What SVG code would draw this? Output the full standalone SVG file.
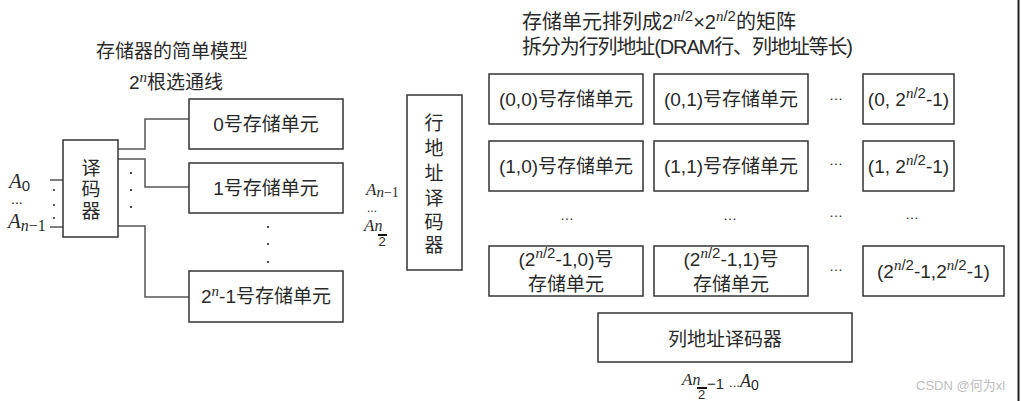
<svg xmlns="http://www.w3.org/2000/svg" width="1021" height="401" viewBox="0 0 1021 401">
<style>
svg{font-family:"Liberation Sans","Noto Sans CJK SC",sans-serif;font-size:19px}
text{fill:#2a2a2a}
.c{text-anchor:middle}
.mi{font-family:"Liberation Serif","DejaVu Serif",serif;font-style:italic}
.up{font-style:normal}
.sup{font-size:15px}
.dots{font-size:14px;text-anchor:middle}
.box{fill:#fff;stroke:#333;stroke-width:1.5}
.wire{fill:none;stroke:#555;stroke-width:1.5}
.dot{fill:#222}
</style>
<rect x="0" y="0" width="1021" height="401" fill="#fff"/>
<line x1="1018.5" y1="0" x2="1018.5" y2="401" stroke="#222" stroke-width="2"/>

<!-- titles -->
<text class="c" x="172" y="58">存储器的简单模型</text>
<text class="c" x="176" y="89">2<tspan class="mi sup" dy="-7">n</tspan><tspan dy="7">根选通线</tspan></text>
<text x="522" y="29" font-size="20">存储单元排列成2<tspan class="sup" dy="-8"><tspan class="mi">n</tspan>/2</tspan><tspan dy="8">×2</tspan><tspan class="sup" dy="-8"><tspan class="mi">n</tspan>/2</tspan><tspan dy="8">的矩阵</tspan></text>
<text x="522" y="54" font-size="20" textLength="331" lengthAdjust="spacing">拆分为行列地址(DRAM行、列地址等长)</text>

<!-- connectors -->
<g id="connectors">
<polyline class="wire" points="118,149 145,149 145,119 189,119"/>
<polyline class="wire" points="118,159 145,159 145,187 189,187"/>
<polyline class="wire" points="118,226 145,226 145,297 189,297"/>
<line class="wire" x1="50" y1="180" x2="63" y2="180"/>
<line class="wire" x1="50" y1="227" x2="63" y2="227"/>
<circle class="dot" cx="54" cy="190" r="1"/>
<circle class="dot" cx="54" cy="205" r="1"/>
<circle class="dot" cx="54" cy="218" r="1"/>
<circle class="dot" cx="131" cy="173" r="1.1"/>
<circle class="dot" cx="131" cy="190" r="1.1"/>
<circle class="dot" cx="131" cy="207" r="1.1"/>
<circle class="dot" cx="268" cy="227" r="1.1"/>
<circle class="dot" cx="268" cy="244" r="1.1"/>
<circle class="dot" cx="268" cy="262" r="1.1"/>
</g>

<!-- left model -->
<g id="decoder">
<rect class="box" x="63" y="140" width="55" height="97"/>
<text class="c" x="91" y="175">译</text>
<text class="c" x="91" y="196">码</text>
<text class="c" x="91" y="218">器</text>
</g>
<g id="inputs-left">
<text class="mi" x="9" y="188" font-size="21">A<tspan class="up" font-family="Liberation Sans, sans-serif" font-size="15" dy="3">0</tspan></text>
<text x="11" y="204" font-size="14">...</text>
<text class="mi" x="8" y="228" font-size="21">A<tspan font-size="16" dy="3">n</tspan><tspan class="up" font-size="16">−1</tspan></text>
</g>
<g id="cell0">
<rect class="box" x="189" y="99" width="154" height="50"/>
<text class="c" x="266" y="131">0号存储单元</text>
</g>
<g id="cell1">
<rect class="box" x="189" y="163" width="154" height="50"/>
<text class="c" x="266" y="195">1号存储单元</text>
</g>
<g id="cellN">
<rect class="box" x="189" y="271" width="154" height="51"/>
<text class="c" x="266" y="303">2<tspan class="mi sup" dy="-7">n</tspan><tspan dy="7">-1号存储单元</tspan></text>
</g>

<!-- row decoder -->
<g id="row-decoder">
<rect class="box" x="407" y="95" width="55" height="175"/>
<text class="c" x="434" y="130">行</text>
<text class="c" x="434" y="155">地</text>
<text class="c" x="434" y="180">址</text>
<text class="c" x="434" y="205">译</text>
<text class="c" x="434" y="229">码</text>
<text class="c" x="434" y="252">器</text>
</g>
<g id="row-inputs">
<text class="mi" x="366" y="195" font-size="17">A<tspan font-size="15" dy="2">n</tspan><tspan class="up" font-size="14">−1</tspan></text>
<text x="367" y="212" font-size="12">...</text>
<text class="mi" x="364" y="231" font-size="17">A<tspan font-size="16">n</tspan></text>
<line x1="378" y1="235" x2="387" y2="235" stroke="#111" stroke-width="2"/>
<text x="378.5" y="245.5" font-size="13">2</text>
</g>

<!-- matrix -->
<g id="m00"><rect class="box" x="489" y="74" width="154" height="50"/><text class="c" x="566" y="106">(0,0)号存储单元</text></g>
<g id="m01"><rect class="box" x="654" y="74" width="154" height="50"/><text class="c" x="731" y="106">(0,1)号存储单元</text></g>
<g id="m0N"><rect class="box" x="863" y="74" width="91" height="50"/><text class="c" x="908.5" y="106">(0, 2<tspan class="sup" dy="-8"><tspan class="mi">n</tspan>/2</tspan><tspan dy="8">-1)</tspan></text></g>

<g id="m10"><rect class="box" x="489" y="141" width="154" height="50"/><text class="c" x="566" y="173">(1,0)号存储单元</text></g>
<g id="m11"><rect class="box" x="654" y="141" width="154" height="50"/><text class="c" x="731" y="173">(1,1)号存储单元</text></g>
<g id="m1N"><rect class="box" x="863" y="141" width="91" height="50"/><text class="c" x="908.5" y="173">(1, 2<tspan class="sup" dy="-8"><tspan class="mi">n</tspan>/2</tspan><tspan dy="8">-1)</tspan></text></g>

<g id="mN0"><rect class="box" x="489" y="246" width="154" height="50"/>
<text class="c" x="566" y="266">(2<tspan class="sup" dy="-8"><tspan class="mi">n</tspan>/2</tspan><tspan dy="8">-1,0)号</tspan></text>
<text class="c" x="566" y="291">存储单元</text></g>
<g id="mN1"><rect class="box" x="654" y="246" width="154" height="50"/>
<text class="c" x="731" y="266">(2<tspan class="sup" dy="-8"><tspan class="mi">n</tspan>/2</tspan><tspan dy="8">-1,1)号</tspan></text>
<text class="c" x="731" y="291">存储单元</text></g>
<g id="mNN"><rect class="box" x="863" y="246" width="141" height="50"/>
<text class="c" x="933.5" y="278">(2<tspan class="sup" dy="-8"><tspan class="mi">n</tspan>/2</tspan><tspan dy="8">-1,2</tspan><tspan class="sup" dy="-8"><tspan class="mi">n</tspan>/2</tspan><tspan dy="8">-1)</tspan></text></g>

<g id="matrix-dots">
<text class="dots" x="836" y="100">…</text>
<text class="dots" x="836" y="165">…</text>
<text class="dots" x="567" y="220">…</text>
<text class="dots" x="730" y="220">…</text>
<text class="dots" x="836" y="217">…</text>
<text class="dots" x="912" y="219">…</text>
<text class="dots" x="836" y="271">…</text>
</g>

<!-- column decoder -->
<g id="col-decoder">
<rect class="box" x="598" y="313" width="254" height="49"/>
<text class="c" x="725" y="346">列地址译码器</text>
</g>
<g id="col-inputs">
<text class="mi" x="682" y="385" font-size="17">A<tspan font-size="16">n</tspan></text>
<line x1="697" y1="388" x2="707" y2="388" stroke="#111" stroke-width="2"/>
<text x="698" y="399" font-size="13">2</text>
<text x="707" y="389" font-size="15">−1<tspan dx="5" font-size="13" dy="-2">...</tspan><tspan class="mi" font-size="18">A</tspan><tspan font-size="14" dy="3">0</tspan></text>
</g>

<text x="916" y="390" font-size="13" style="fill:#bdbdbd">CSDN @何为xl</text>
</svg>
